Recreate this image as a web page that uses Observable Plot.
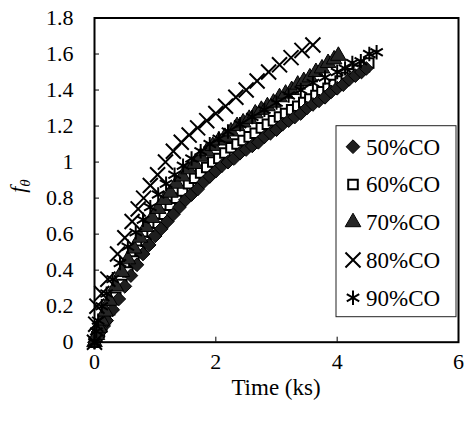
<!DOCTYPE html>
<html>
<head>
<meta charset="utf-8">
<script src="https://cdn.jsdelivr.net/npm/d3@7"></script>
<script src="https://cdn.jsdelivr.net/npm/@observablehq/plot@0.6"></script>
</head>
<body style="margin:0;padding:0;background:#fff">
<div id="chart" style="position:relative;width:464px;height:439px">
  <div id="xtitle" style="position:absolute;left:94px;width:364px;top:375.5px;text-align:center;font-family:'Liberation Serif';font-size:23px;line-height:23px;color:#000;z-index:2">Time (ks)</div>
</div>
<script>
// ---- data ----
const seriesNames = ["50%CO", "60%CO", "70%CO", "80%CO", "90%CO"];
const xTicks = [0, 2, 4, 6];
const yTicks = [0, 0.2, 0.4, 0.6, 0.8, 1.0, 1.2, 1.4, 1.6, 1.8];

const t50 = [0,0.03,0.06,0.1,0.15,0.2,0.3,0.4,0.5,0.6,0.7,0.8,0.9,1.0,1.1,1.2,1.3,1.4,1.5,1.6,1.7,1.8,1.9,2.0,2.1,2.2,2.3,2.4,2.5,2.6,2.7,2.8,2.9,3.0,3.1,3.2,3.3,3.4,3.5,3.6,3.7,3.8,3.9,4.0,4.1,4.2,4.3,4.4,4.48];
const f50 = [0,0.02,0.03,0.06,0.09,0.12,0.18,0.24,0.31,0.37,0.43,0.49,0.54,0.59,0.63,0.67,0.71,0.75,0.79,0.82,0.85,0.89,0.92,0.95,0.98,1.0,1.02,1.05,1.07,1.09,1.11,1.14,1.16,1.18,1.21,1.23,1.25,1.27,1.3,1.32,1.34,1.36,1.39,1.41,1.43,1.46,1.48,1.5,1.52];

const t60 = [0,0.04,0.08,0.12,0.18,0.25,0.35,0.45,0.55,0.65,0.75,0.85,0.95,1.05,1.15,1.25,1.35,1.45,1.55,1.65,1.75,1.85,1.95,2.05,2.15,2.25,2.35,2.45,2.55,2.65,2.75,2.85,2.95,3.05,3.15,3.25,3.35,3.45,3.55,3.65,3.75,3.85,3.95,4.05,4.15,4.25,4.35,4.45,4.52];
const f60 = [0,0.03,0.06,0.09,0.13,0.18,0.25,0.32,0.39,0.45,0.51,0.56,0.61,0.66,0.71,0.76,0.8,0.84,0.88,0.91,0.94,0.97,1.0,1.02,1.05,1.08,1.1,1.12,1.14,1.16,1.19,1.21,1.23,1.25,1.27,1.29,1.31,1.33,1.35,1.37,1.39,1.41,1.43,1.45,1.47,1.49,1.51,1.53,1.55];

const t70 = [0,0.04,0.08,0.12,0.18,0.25,0.35,0.45,0.55,0.65,0.75,0.85,0.95,1.05,1.15,1.25,1.35,1.45,1.55,1.65,1.75,1.85,1.95,2.05,2.15,2.25,2.35,2.45,2.55,2.65,2.75,2.85,2.95,3.05,3.15,3.25,3.35,3.45,3.55,3.65,3.75,3.85,3.95,4.02];
const f70 = [0,0.04,0.08,0.12,0.17,0.23,0.31,0.39,0.46,0.52,0.58,0.64,0.69,0.74,0.79,0.83,0.88,0.92,0.96,0.99,1.03,1.06,1.09,1.12,1.14,1.17,1.2,1.22,1.24,1.27,1.29,1.31,1.33,1.36,1.38,1.4,1.43,1.45,1.47,1.5,1.52,1.55,1.57,1.59];

const t80 = [0,0.02,0.04,0.12,0.22,0.38,0.5,0.62,0.72,0.81,0.92,1.04,1.17,1.3,1.43,1.56,1.7,1.85,2.0,2.16,2.33,2.5,2.68,2.87,3.05,3.24,3.42,3.6];
const f80 = [0,0.1,0.2,0.27,0.35,0.49,0.58,0.67,0.74,0.8,0.87,0.93,1.0,1.06,1.11,1.15,1.19,1.23,1.27,1.31,1.36,1.4,1.45,1.5,1.54,1.58,1.62,1.65];

const t90 = [0,0.03,0.06,0.12,0.2,0.3,0.42,0.55,0.68,0.8,0.92,1.05,1.18,1.32,1.46,1.6,1.75,1.9,2.05,2.2,2.4,2.6,2.8,3.0,3.2,3.4,3.6,3.8,4.0,4.13,4.25,4.39,4.53,4.65];
const f90 = [0,0.06,0.12,0.2,0.27,0.35,0.44,0.53,0.61,0.68,0.75,0.82,0.88,0.93,0.98,1.02,1.06,1.1,1.13,1.17,1.21,1.25,1.29,1.33,1.37,1.4,1.44,1.47,1.5,1.52,1.55,1.56,1.6,1.61];

// ---- styling ----
const font = "Liberation Serif";
const W = 464, H = 439;
const mL = 94, mR = 6, mT = 17.5, mB = 97.3;
const plotW = W - mL - mR, plotH = H - mT - mB;

const styles = [
  {symbol: "diamond2", d3sym: d3.symbolDiamond2, r: 6.2, fill: "#1e1e1e", stroke: "black", sw: 1},
  {symbol: "square", d3sym: d3.symbolSquare, r: 5.4, fill: "white", stroke: "black", sw: 2},
  {symbol: "triangle", d3sym: d3.symbolTriangle, r: 5.8, fill: "#262626", stroke: "black", sw: 1},
  {symbol: "times", d3sym: d3.symbolTimes, r: 6.9, fill: "none", stroke: "black", sw: 2},
  {symbol: "asterisk", d3sym: d3.symbolAsterisk, r: 6.8, fill: "none", stroke: "black", sw: 2}
];

const series = [[t50, f50], [t60, f60], [t70, f70], [t80, f80], [t90, f90]]
  .map(([ts, fs], k) => ts.map((t, i) => ({t, f: fs[i], s: seriesNames[k]})));

// drawing order: squares first so the other markers partly cover them
const drawOrder = [1, 0, 2, 3, 4];
const dotMarks = drawOrder.map((k) => {
  const st = styles[k];
  return Plot.dot(series[k], {
    x: "t", y: "f", symbol: () => st.symbol, r: st.r,
    fill: st.fill, stroke: st.stroke, strokeWidth: st.sw
  });
});

const chart = Plot.plot({
  width: W, height: H,
  marginLeft: mL, marginRight: mR, marginTop: mT, marginBottom: mB,
  style: {fontFamily: font, fontSize: "22px"},
  x: {domain: [0, 6]},
  y: {domain: [0, 1.8]},
  symbol: {type: "identity"},
  marks: [
    Plot.axisY(yTicks, {tickSize: 0, tickPadding: 21, label: null, tickFormat: d => String(+d.toFixed(1))}),
    Plot.axisX(xTicks, {tickSize: 0, tickPadding: 11, label: null}),
    Plot.tickY(yTicks, {y: d => d, insetRight: plotW - 5, stroke: "black", strokeWidth: 1}),
    Plot.tickX(xTicks, {x: d => d, insetTop: plotH - 5, stroke: "black", strokeWidth: 1}),
    ...dotMarks,
    Plot.frame({stroke: "black", strokeWidth: 2})
  ]
});

const holder = document.getElementById("chart");
holder.insertBefore(chart, holder.firstChild);

const svg = d3.select(chart);

// y title
const yl = svg.append("text")
  .attr("transform", "translate(25,186) rotate(-90)")
  .attr("text-anchor", "middle")
  .attr("font-family", font).attr("font-size", 22).attr("fill", "black");
yl.append("tspan").attr("font-style", "italic").text("f");
yl.append("tspan").attr("font-style", "italic").attr("font-size", 15).attr("dy", 5).text("θ");

// legend
const lg = svg.append("g").attr("transform", "translate(336,125.7)");
lg.append("rect").attr("width", 120).attr("height", 191)
  .attr("fill", "white").attr("stroke", "#222").attr("stroke-width", 1);
const rowH = 37.75;
seriesNames.forEach((name, k) => {
  const st = styles[k];
  const cy = 21 + k * rowH;
  lg.append("path")
    .attr("transform", `translate(17,${cy})`)
    .attr("d", d3.symbol(st.d3sym, Math.PI * st.r * st.r)())
    .attr("fill", st.fill).attr("stroke", st.stroke).attr("stroke-width", st.sw);
  lg.append("text")
    .attr("x", 30).attr("y", cy + 8)
    .attr("text-anchor", "start")
    .attr("font-family", font).attr("font-size", 23).attr("fill", "black")
    .text(name);
});
</script>
</body>
</html>
